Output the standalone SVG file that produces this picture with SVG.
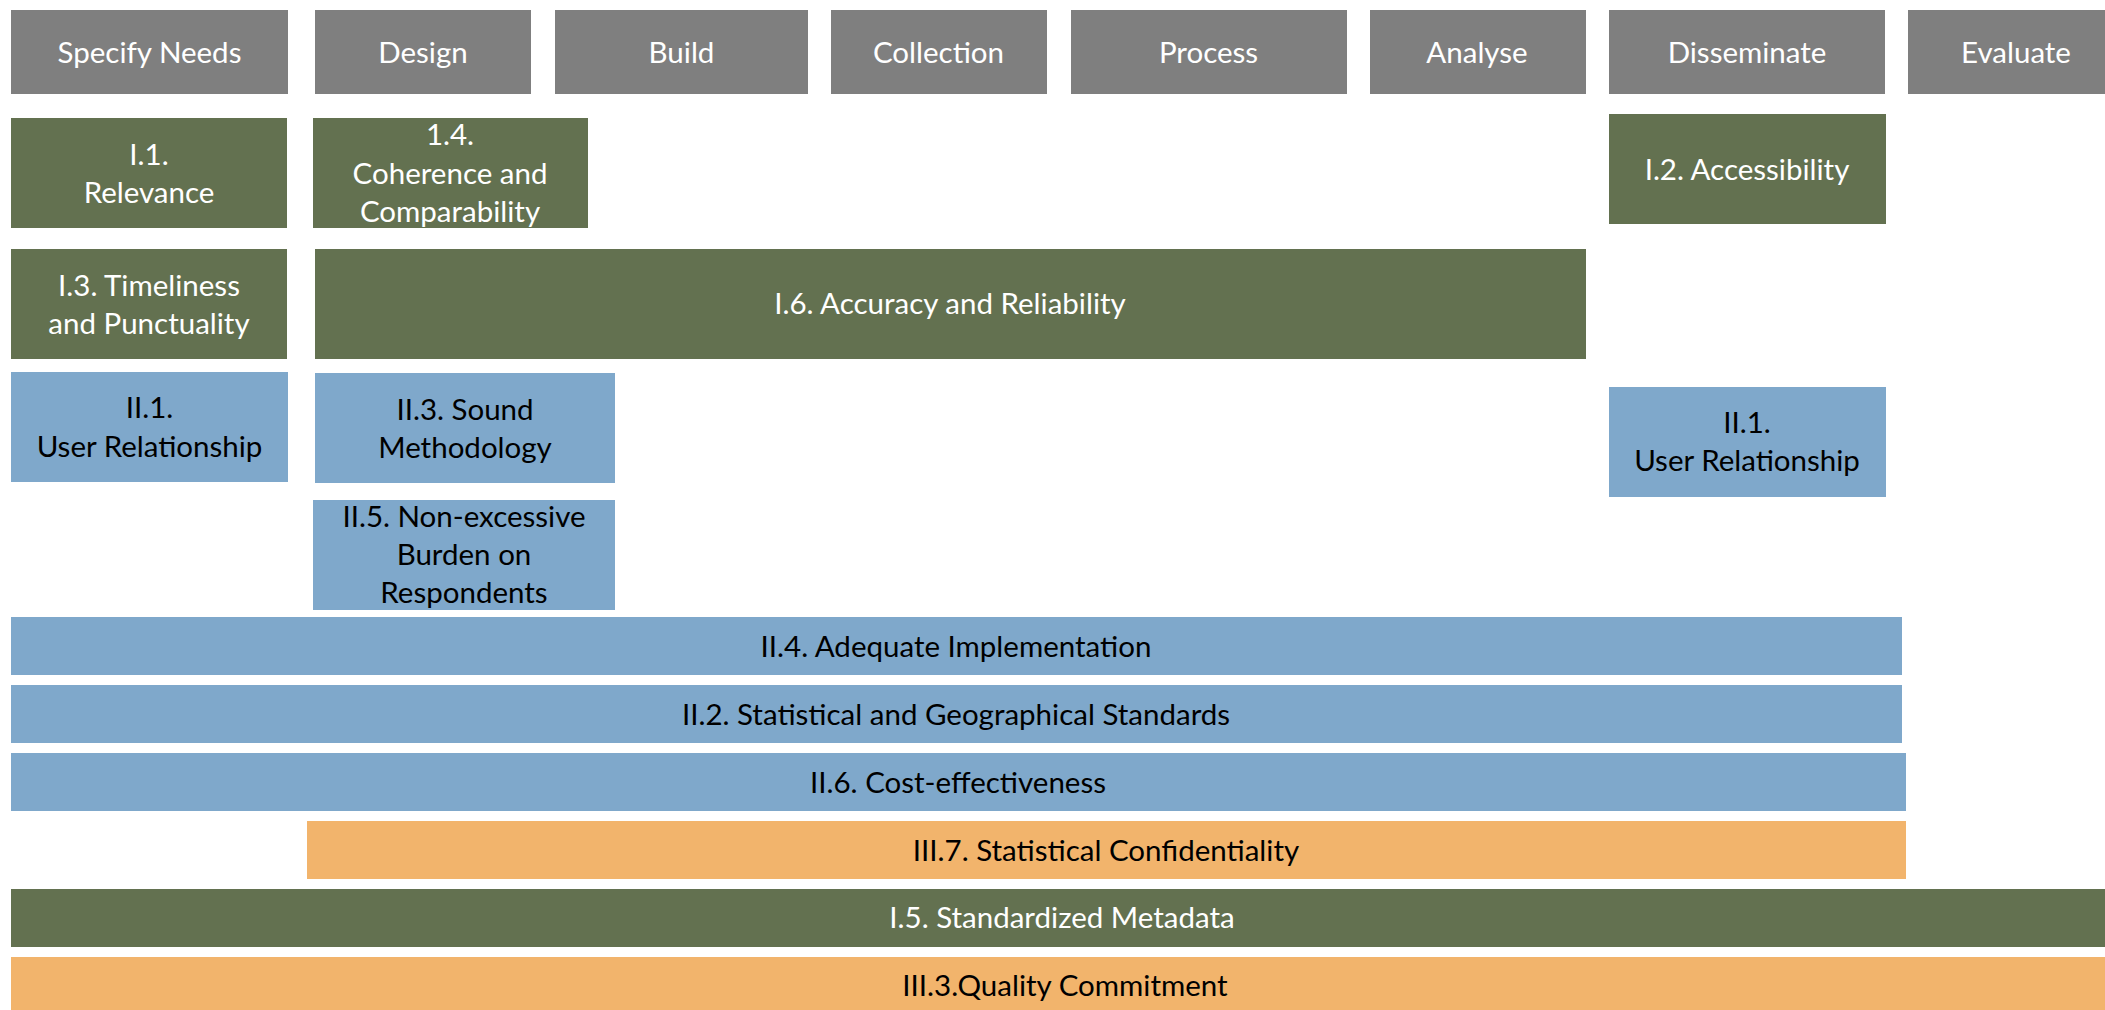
<svg xmlns="http://www.w3.org/2000/svg" width="2105" height="1010" viewBox="0 0 2105 1010">
<style>
text{font-family:Lato,"Open Sans","Liberation Sans",sans-serif;font-size:29.5px;text-anchor:middle}
.hd{fill:#7f7f7f}
.gr{fill:#637150}
.bl{fill:#7fa8cb}
.or{fill:#f2b46c}
.w{fill:#ffffff}
.k{fill:#000000}
</style>
<rect width="2105" height="1010" fill="#ffffff"/>
<g id="headers">
<g id="h-specify"><rect class="hd" x="11" y="10" width="277" height="84"/><text class="w" x="149.5" y="63">Specify Needs</text></g>
<g id="h-design"><rect class="hd" x="315" y="10" width="216" height="84"/><text class="w" x="423" y="63">Design</text></g>
<g id="h-build"><rect class="hd" x="555" y="10" width="253" height="84"/><text class="w" x="681.5" y="63">Build</text></g>
<g id="h-collection"><rect class="hd" x="831" y="10" width="216" height="84"/><text class="w" x="938.5" y="63">Collection</text></g>
<g id="h-process"><rect class="hd" x="1071" y="10" width="276" height="84"/><text class="w" x="1208.5" y="63">Process</text></g>
<g id="h-analyse"><rect class="hd" x="1370" y="10" width="216" height="84"/><text class="w" x="1477" y="63">Analyse</text></g>
<g id="h-disseminate"><rect class="hd" x="1609" y="10" width="276" height="84"/><text class="w" x="1747" y="63">Disseminate</text></g>
<g id="h-evaluate"><rect class="hd" x="1908" y="10" width="197" height="84"/><text class="w" x="2016" y="63">Evaluate</text></g>
</g>
<g id="n-i1"><rect class="gr" x="11" y="118" width="276" height="110"/><text class="w" x="149" y="165">I.1.</text><text class="w" x="149" y="203">Relevance</text></g>
<g id="n-14"><rect class="gr" x="313" y="118" width="275" height="110"/><text class="w" x="450" y="145">1.4.</text><text class="w" x="450" y="184">Coherence and</text><text class="w" x="450" y="222">Comparability</text></g>
<g id="n-i2"><rect class="gr" x="1609" y="114" width="277" height="110"/><text class="w" x="1747" y="180">I.2. Accessibility</text></g>
<g id="n-i3"><rect class="gr" x="11" y="249" width="276" height="110"/><text class="w" x="149" y="296">I.3. Timeliness</text><text class="w" x="149" y="334">and Punctuality</text></g>
<g id="n-i6"><rect class="gr" x="315" y="249" width="1271" height="110"/><text class="w" x="950" y="314">I.6. Accuracy and Reliability</text></g>
<g id="n-ii1a"><rect class="bl" x="11" y="372" width="277" height="110"/><text class="k" x="149.5" y="418">II.1.</text><text class="k" x="149.5" y="457">User Relationship</text></g>
<g id="n-ii3"><rect class="bl" x="315" y="373" width="300" height="110"/><text class="k" x="465" y="420">II.3. Sound</text><text class="k" x="465" y="458">Methodology</text></g>
<g id="n-ii5"><rect class="bl" x="313" y="500" width="302" height="110"/><text class="k" x="464" y="527">II.5. Non-excessive</text><text class="k" x="464" y="565">Burden on</text><text class="k" x="464" y="603">Respondents</text></g>
<g id="n-ii1b"><rect class="bl" x="1609" y="387" width="277" height="110"/><text class="k" x="1747" y="433">II.1.</text><text class="k" x="1747" y="471">User Relationship</text></g>
<g id="n-ii4"><rect class="bl" x="11" y="617" width="1891" height="58"/><text class="k" x="956" y="657">II.4. Adequate Implementation</text></g>
<g id="n-ii2"><rect class="bl" x="11" y="685" width="1891" height="58"/><text class="k" x="956" y="725">II.2. Statistical and Geographical Standards</text></g>
<g id="n-ii6"><rect class="bl" x="11" y="753" width="1895" height="58"/><text class="k" x="958" y="793">II.6. Cost-effectiveness</text></g>
<g id="n-iii7"><rect class="or" x="307" y="821" width="1599" height="58"/><text class="k" x="1106" y="861">III.7. Statistical Confidentiality</text></g>
<g id="n-i5"><rect class="gr" x="11" y="889" width="2094" height="58"/><text class="w" x="1062" y="928">I.5. Standardized Metadata</text></g>
<g id="n-iii3"><rect class="or" x="11" y="957" width="2094" height="53"/><text class="k" x="1065" y="996">III.3.Quality Commitment</text></g>
<g id="connectors"/>
</svg>
